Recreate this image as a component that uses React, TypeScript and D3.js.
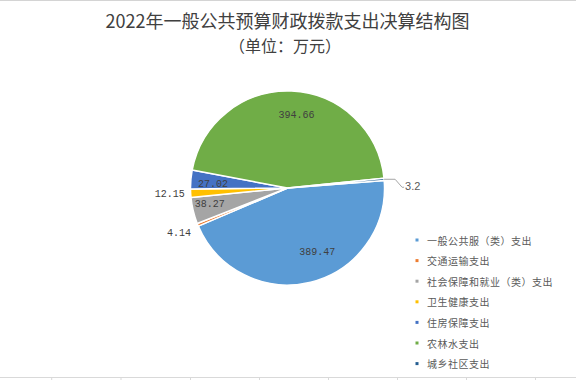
import React from "react";
import * as d3 from "d3";

const categories = [
  "一般公共服（类）支出",
  "交通运输支出",
  "社会保障和就业（类）支出",
  "卫生健康支出",
  "住房保障支出",
  "农林水支出",
  "城乡社区支出",
];
const values = [389.47, 4.14, 38.27, 12.15, 27.02, 394.66, 3.2];
const valueLabels = ["389.47", "4.14", "38.27", "12.15", "27.02", "394.66", "3.2"];
const colors = ["#5B9BD5", "#ED7D31", "#A5A5A5", "#FFC000", "#4472C4", "#70AD47", "#255E91"];

// label placement style (not data)
const labelMode = ["inside", "outside", "inside", "outside", "inside", "inside", "leader"];
const labelRadius = [0.73, 1.1, 0.82, 1.06, 0.77, 0.75, 1.0];
const labelShiftDeg = [-11, -3, 1.4, -0.4, -2, 4.6, 0];

const W = 576;
const H = 380;
const cx = 287.5;
const cy = 188;
const R = 97;
const startDeg = 85.5;
const rad = (d: number) => (d * Math.PI) / 180;

export default function App() {
  const pie = d3
    .pie<number>()
    .sort(null)
    .value((d) => d)
    .startAngle(rad(startDeg))
    .endAngle(rad(startDeg + 360));
  const arcs = pie(values);
  const arc = d3.arc<d3.PieArcDatum<number>>().innerRadius(0).outerRadius(R);

  const pointAt = (angle: number, r: number) => [Math.sin(angle) * r, -Math.cos(angle) * r];

  const legendX = 417;
  const legendY0 = 240;
  const legendStep = 20.6;

  const gridX = [51.7, 121, 190.5, 259.5, 328.5, 397.5, 466.5, 535.5];

  return (
    <svg
      width={W}
      height={H}
      viewBox={`0 0 ${W} ${H}`}
      style={{ position: "absolute", left: 0, top: 0, background: "#fff" }}
    >
      <rect x={0} y={0} width={W} height={H} fill="#fff" />
      <line x1={0} x2={W} y1={0.5} y2={0.5} stroke="#d4d4d4" strokeWidth={1} />
      <line x1={0} x2={W} y1={377.5} y2={377.5} stroke="#d9d9d9" strokeWidth={1} />
      {gridX.map((x, i) => (
        <line key={i} x1={x} x2={x} y1={377.5} y2={380} stroke="#d9d9d9" strokeWidth={1} />
      ))}

      <text
        x={287.5}
        y={28}
        textAnchor="middle"
        fontFamily="'Noto Sans CJK SC', sans-serif"
        fontSize={18}
        fill="#404040"
      >
        2022年一般公共预算财政拨款支出决算结构图
      </text>
      <text
        x={285}
        y={52}
        textAnchor="middle"
        fontFamily="'Noto Sans CJK SC', sans-serif"
        fontSize={16}
        fill="#404040"
      >
        （单位：万元）
      </text>

      <g transform={`translate(${cx},${cy})`}>
        {arcs.map((a, i) => (
          <path key={i} d={arc(a) || ""} fill={colors[i]} stroke="#fff" strokeWidth={1.5} strokeLinejoin="round" />
        ))}
        {arcs.map((a, i) => {
          const mid = (a.startAngle + a.endAngle) / 2 + rad(labelShiftDeg[i]);
          const mode = labelMode[i];
          if (mode === "inside") {
            const [x, y] = pointAt(mid, R * labelRadius[i]);
            return (
              <text
                key={i}
                x={x}
                y={y}
                textAnchor="middle"
                dominantBaseline="central"
                fontFamily="'Liberation Mono', monospace"
                fontSize={10}
                fill="#404040"
              >
                {valueLabels[i]}
              </text>
            );
          }
          if (mode === "outside") {
            const [x, y] = pointAt(mid, R * labelRadius[i]);
            return (
              <text
                key={i}
                x={x}
                y={y}
                textAnchor="end"
                dominantBaseline="central"
                fontFamily="'Liberation Mono', monospace"
                fontSize={10}
                fill="#404040"
              >
                {valueLabels[i]}
              </text>
            );
          }
          const [x0, y0] = pointAt(mid, R);
          const x1 = x0 + 11;
          const x2 = x1 + 7;
          const y2 = y0 + 8;
          const x3 = x2 + 2;
          return (
            <g key={i}>
              <polyline
                points={`${x0},${y0} ${x1},${y0} ${x2},${y2} ${x3},${y2}`}
                fill="none"
                stroke="#a6a6a6"
                strokeWidth={1}
              />
              <text
                x={x3 + 1}
                y={y2 - 1}
                textAnchor="start"
                dominantBaseline="central"
                fontFamily="'Liberation Sans', sans-serif"
                fontSize={11}
                fill="#595959"
              >
                {valueLabels[i]}
              </text>
            </g>
          );
        })}
      </g>

      {categories.map((c, i) => {
        const y = legendY0 + i * legendStep;
        return (
          <g key={i}>
            <rect x={legendX - 1.5} y={y - 1.5} width={3} height={3} fill={colors[i]} />
            <text
              x={legendX + 10}
              y={y}
              dominantBaseline="central"
              fontFamily="'Noto Sans CJK SC', sans-serif"
              fontSize={10}
              letterSpacing={0.5}
              fill="#595959"
            >
              {c}
            </text>
          </g>
        );
      })}
    </svg>
  );
}
